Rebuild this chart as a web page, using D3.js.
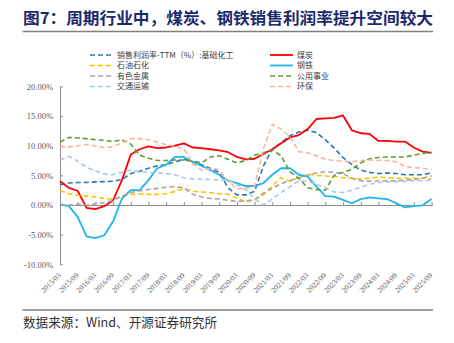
<!DOCTYPE html>
<html>
<head>
<meta charset="utf-8">
<script src="https://cdn.jsdelivr.net/npm/d3@7"></script>
<style>
  body { margin: 0; background: #fff; }
  svg { display: block; }
</style>
</head>
<body>
<svg id="chart" width="454" height="343"></svg>
<script>
// Quarterly reporting periods
const quarters = [
  "2015/03","2015/06","2015/09","2015/12","2016/03","2016/06","2016/09","2016/12",
  "2017/03","2017/06","2017/09","2017/12","2018/03","2018/06","2018/09","2018/12",
  "2019/03","2019/06","2019/09","2019/12","2020/03","2020/06","2020/09","2020/12",
  "2021/03","2021/06","2021/09","2021/12","2022/03","2022/06","2022/09","2022/12",
  "2023/03","2023/06","2023/09","2023/12","2024/03","2024/06","2024/09","2024/12",
  "2025/03","2025/06","2025/09"
];
// Labelled periods on the category axis
const xTickLabels = [
  "2015/03","2015/09","2016/03","2016/09","2017/03","2017/09","2018/03","2018/09",
  "2019/03","2019/09","2020/03","2020/09","2021/03","2021/09","2022/03","2022/09",
  "2023/03","2023/09","2024/03","2024/09","2025/03","2025/09"
];
const yTickValues = [-10, -5, 0, 5, 10, 15, 20];

// Sales profit margin, TTM (%)
const chem = [3.4,3.7,3.8,3.8,3.9,3.95,4.0,4.3,5.3,5.7,6.2,6.6,6.8,7.3,7.7,7.3,6.8,6.2,5.5,2.9,1.7,1.7,2.3,6.6,9.4,10.5,11.7,12.3,12.6,12.2,11.0,9.6,8.0,6.8,5.9,5.5,5.3,5.4,5.3,5.1,5.1,5.1,5.4];
const coal = [4.0,2.9,2.4,-0.5,-0.7,-0.2,0.8,4.2,8.5,9.4,9.9,9.6,9.7,10.0,10.4,9.7,9.6,9.4,9.2,8.9,8.1,7.7,7.8,8.6,9.4,10.4,11.4,11.8,12.8,14.5,14.6,14.7,15.1,12.6,12.1,12.0,10.8,10.8,10.7,10.7,9.7,9.0,8.8];
const petro = [2.4,1.9,1.6,1.5,1.4,1.1,0.95,1.5,1.8,1.9,1.8,1.8,1.9,2.3,2.75,2.3,2.2,2.1,1.9,1.8,1.2,0.5,0.9,1.7,3.2,4.6,4.0,4.6,5.2,5.0,4.9,4.8,4.6,4.5,4.4,4.5,4.7,4.6,4.5,4.5,4.5,4.5,4.4];
const steel = [0.1,-0.2,-2.0,-5.3,-5.6,-5.1,-2.8,1.1,2.5,2.5,4.2,6.2,6.8,8.1,8.1,7.3,6.6,5.9,5.1,4.1,3.7,3.2,3.2,3.7,5.1,6.2,6.2,5.1,4.8,3.1,1.5,1.4,0.85,0.3,1.0,1.3,1.1,1.0,0.3,-0.4,-0.2,-0.05,1.0];
const metals = [0.1,0.0,0.1,0.0,0.2,0.4,0.8,1.5,2.1,2.4,2.6,2.8,3.0,3.1,2.9,1.8,1.4,1.1,1.0,0.8,0.6,0.7,0.9,2.0,2.8,3.6,4.1,4.6,5.0,5.4,5.6,5.5,5.3,4.5,4.1,4.0,4.1,4.1,4.1,4.2,4.3,4.5,4.9];
const utilities = [10.6,11.4,11.3,11.2,11.0,10.9,10.7,11.0,10.3,8.4,7.9,7.5,7.5,7.6,7.6,7.4,7.1,8.1,8.3,7.7,7.1,7.5,8.4,8.8,9.3,8.3,5.6,4.5,2.9,2.6,2.5,5.0,5.5,6.0,7.1,7.8,8.0,8.1,8.1,8.1,8.4,8.7,8.9];
const transport = [7.6,8.2,7.4,6.3,5.8,5.2,5.1,5.5,5.9,5.6,5.5,5.4,5.3,5.1,4.6,4.4,4.35,4.3,4.2,4.2,3.4,2.6,1.0,0.0,1.0,2.1,3.1,4.1,4.0,3.5,2.9,2.2,2.1,2.5,3.0,3.5,3.8,3.9,3.95,4.0,4.1,4.1,4.2];
const env = [9.8,9.8,10.0,10.2,9.9,9.7,9.8,10.5,11.2,11.2,11.0,10.6,10.2,9.9,9.5,7.0,5.9,6.2,5.9,4.0,2.7,2.8,3.2,9.5,13.6,12.8,11.5,9.0,8.8,8.3,7.7,7.5,7.4,7.3,7.5,7.6,7.5,7.5,7.3,6.5,6.3,6.2,6.0];

const seriesNames = ["销售利润率-TTM（%）:基础化工","煤炭","石油石化","钢铁","有色金属","公用事业","交通运输","环保"];
const seriesValues = [chem, coal, petro, steel, metals, utilities, transport, env];
const seriesColors = ["#2e75b6","#ff0000","#ffc000","#1fb4ee","#a5a5a5","#5e9e34","#a9c8e8","#f4b697"];
const seriesDashed = [true, false, true, false, true, true, true, true];

const svg = d3.select("#chart");
const axisColor = "#8c8c8c";
const labelColor = "#595959";

// Title with rule underneath
svg.append("text")
  .attr("x", 23).attr("y", 24)
  .attr("font-family", "'Noto Sans CJK SC', sans-serif")
  .attr("font-size", 16).attr("font-weight", "bold")
  .attr("fill", "#1c2a6b")
  .attr("textLength", 410).attr("lengthAdjust", "spacingAndGlyphs")
  .text("图7：周期行业中，煤炭、钢铁销售利润率提升空间较大");
svg.append("line")
  .attr("x1", 22.5).attr("x2", 433).attr("y1", 31.5).attr("y2", 31.5)
  .attr("stroke", "#808080").attr("stroke-width", 1.5);

// Scales
const x = d3.scalePoint().domain(quarters).range([60, 431.5]);
const y = d3.scaleLinear().domain([-10, 20]).range([264.3, 86.4]);

// Y axis with inward ticks
const yAxis = d3.axisLeft(y)
  .tickValues(yTickValues)
  .tickFormat(d => d.toFixed(2) + "%")
  .tickSizeInner(-3).tickSizeOuter(0).tickPadding(7);
const gy = svg.append("g").attr("transform", "translate(60,0)").call(yAxis);
gy.select(".domain").attr("stroke", axisColor);
gy.selectAll(".tick line").attr("stroke", axisColor);
gy.selectAll(".tick text")
  .attr("font-family", "'Liberation Serif', serif")
  .attr("font-size", 8.5).attr("fill", labelColor);

// Category axis along the zero line, ticks pointing up
const xAxis = d3.axisBottom(x)
  .tickValues(xTickLabels)
  .tickFormat("")
  .tickSizeInner(-3).tickSizeOuter(0);
const gx = svg.append("g").attr("transform", `translate(0,${y(0)})`).call(xAxis);
gx.select(".domain").attr("stroke", axisColor).attr("d", "M60,0.5H433");
gx.selectAll(".tick line").attr("stroke", axisColor);

// Rotated period labels below the plot
const xLab = d3.axisBottom(x).tickValues(xTickLabels).tickSize(0);
const gl = svg.append("g").attr("transform", "translate(-1,274)").call(xLab);
gl.select(".domain").remove();
gl.selectAll(".tick text")
  .attr("font-family", "'Liberation Serif', serif")
  .attr("font-size", 7.5).attr("fill", labelColor)
  .attr("text-anchor", "end")
  .attr("x", 0).attr("y", 0).attr("dy", "0.35em")
  .attr("transform", "rotate(-45)");

// Series lines
const line = d3.line()
  .x((d, i) => x(quarters[i]))
  .y(d => y(d));

seriesValues.forEach((vals, k) => {
  svg.append("path")
    .datum(vals)
    .attr("fill", "none")
    .attr("stroke", seriesColors[k])
    .attr("stroke-width", seriesDashed[k] ? 1.6 : 1.8)
    .attr("stroke-dasharray", seriesDashed[k] ? "5,3" : null)
    .attr("stroke-linejoin", "round")
    .attr("d", line);
});

// Legend: two columns, filled row by row
const legendCols = [{lx: 90, tx: 117}, {lx: 270, tx: 297}];
const legendRows = [55, 65.5, 76, 86.5];
const legend = svg.append("g");
seriesNames.forEach((name, k) => {
  const col = legendCols[k % 2];
  const ry = legendRows[Math.floor(k / 2)];
  legend.append("line")
    .attr("x1", col.lx).attr("x2", col.lx + 23)
    .attr("y1", ry).attr("y2", ry)
    .attr("stroke", seriesColors[k])
    .attr("stroke-width", seriesDashed[k] ? 1.6 : 1.8)
    .attr("stroke-dasharray", seriesDashed[k] ? "5,3" : null);
  legend.append("text")
    .attr("x", col.tx).attr("y", ry).attr("dy", "0.35em")
    .attr("font-family", "'Noto Sans CJK SC', sans-serif")
    .attr("font-size", 8).attr("fill", "#404040")
    .text(name);
});

// Source note with rule above
svg.append("line")
  .attr("x1", 22.5).attr("x2", 433).attr("y1", 310).attr("y2", 310)
  .attr("stroke", "#404040").attr("stroke-width", 1.2);
svg.append("text")
  .attr("x", 23).attr("y", 327)
  .attr("font-family", "'Noto Sans CJK SC', sans-serif")
  .attr("font-size", 13).attr("fill", "#333")
  .attr("textLength", 194).attr("lengthAdjust", "spacingAndGlyphs")
  .text("数据来源：Wind、开源证券研究所");
</script>
</body>
</html>
